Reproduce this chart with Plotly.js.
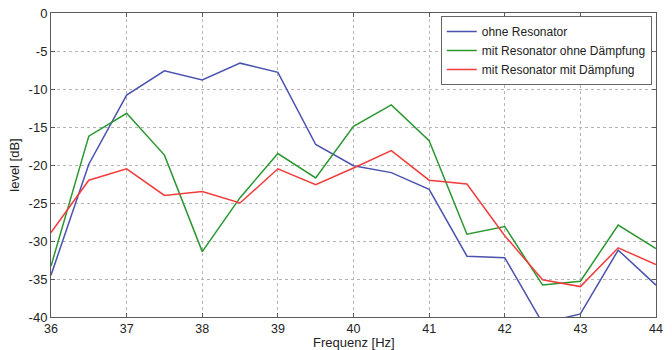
<!DOCTYPE html>
<html>
<head>
<meta charset="utf-8">
<script src="https://cdn.plot.ly/plotly-3.0.1.min.js"></script>
<style>html,body{margin:0;padding:0;background:#fff;}#chart{width:672px;height:350px;}</style>
</head>
<body>
<div id="chart"></div>
<script>
const freq = [36, 36.5, 37, 37.5, 38, 38.5, 39, 39.5, 40, 40.5, 41, 41.5, 42, 42.5, 43, 43.5, 44];
const ohneResonator = [-34.5, -19.9, -10.8, -7.6, -8.8, -6.6, -7.8, -17.3, -20.1, -21.0, -23.2, -32.0, -32.2, -40.8, -39.6, -31.2, -35.8];
const mitResonatorOhneDaempfung = [-33.3, -16.2, -13.2, -18.7, -31.4, -24.3, -18.5, -21.7, -14.9, -12.1, -16.8, -29.1, -28.1, -35.8, -35.3, -27.9, -31.0];
const mitResonatorMitDaempfung = [-28.9, -22.0, -20.5, -24.0, -23.5, -25.0, -20.5, -22.6, -20.4, -18.1, -22.0, -22.5, -29.3, -35.1, -36.0, -30.9, -33.1];
const seriesNames = ['ohne Resonator', 'mit Resonator ohne Dämpfung', 'mit Resonator mit Dämpfung'];
const xTicks = [36, 37, 38, 39, 40, 41, 42, 43, 44];
const yTicks = [0, -5, -10, -15, -20, -25, -30, -35, -40];
const xTitle = 'Frequenz [Hz]';
const yTitle = 'level [dB]';

const colors = ['#4a52b0', '#2a962f', '#f23c3c'];
const data = [ohneResonator, mitResonatorOhneDaempfung, mitResonatorMitDaempfung].map((y, i) => ({
  x: freq, y: y, type: 'scatter', mode: 'lines', name: seriesNames[i],
  line: {color: colors[i], width: 1.5}
}));

const axisCommon = {
  showgrid: true, griddash: 'dot', gridcolor: '#b5b5b5', gridwidth: 1,
  showline: true, linecolor: '#5a5a5a', linewidth: 1, mirror: 'ticks',
  ticks: 'inside', ticklen: 4, tickcolor: '#5a5a5a',
  zeroline: false, tickfont: {family: 'Liberation Sans, Arial, sans-serif', size: 13, color: '#222'}
};

const layout = {
  width: 672, height: 350,
  margin: {l: 51, r: 16, t: 13, b: 33},
  paper_bgcolor: '#fff', plot_bgcolor: '#fff',
  font: {family: 'Liberation Sans, Arial, sans-serif', size: 13, color: '#222'},
  xaxis: Object.assign({}, axisCommon, {
    range: [36, 44], tickvals: xTicks, ticktext: xTicks.map(String),
    automargin: false, ticklabelstandoff: 0,
    tickfont: {family: 'Liberation Sans, Arial, sans-serif', size: 12.5, color: '#222'}
  }),
  yaxis: Object.assign({}, axisCommon, {
    range: [-40, 0], tickvals: yTicks, ticktext: yTicks.map(String),
    automargin: false,
    title: {text: yTitle, font: {size: 13}, standoff: 6}
  }),
  annotations: [{
    text: xTitle, xref: 'paper', yref: 'paper', x: 0.5, y: -0.112,
    xanchor: 'center', yanchor: 'bottom', showarrow: false, borderpad: 0,
    font: {size: 13, color: '#222'}
  }],
  showlegend: true,
  legend: {
    x: 0.993, y: 0.99, xanchor: 'right', yanchor: 'top',
    bgcolor: '#fff', bordercolor: '#666', borderwidth: 1,
    font: {size: 12, color: '#222'}, tracegroupgap: 0, itemwidth: 30
  }
};

Plotly.newPlot('chart', data, layout, {displayModeBar: false, staticPlot: true});
</script>
</body>
</html>
